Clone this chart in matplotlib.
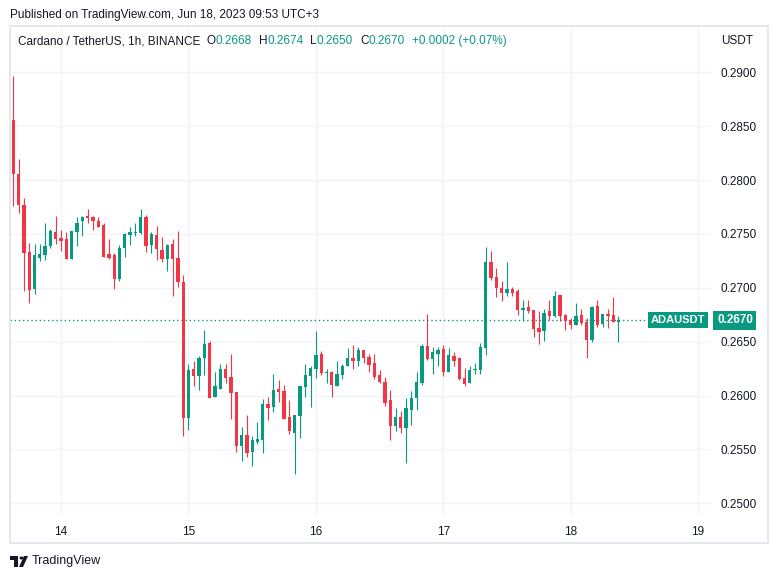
import numpy as np
import pandas as pd
import matplotlib
matplotlib.use("Agg")
import matplotlib.pyplot as plt
import matplotlib.dates as mdates
from matplotlib.ticker import FormatStrFormatter
from matplotlib.patches import Rectangle, Circle, Polygon
from matplotlib import transforms

W, H = 777, 579
UP, DOWN = "#089981", "#f23645"
TXT = "#131722"
GRID = "#f0f3fa"
FRAME = "#e0e3eb"

# ADA/USDT 1h candles, Jun 13 15:00 .. Jun 18 09:00 (UTC+3)
opens = [0.2856, 0.2806, 0.2777, 0.2733, 0.2699, 0.2728, 0.2730, 0.2739, 0.2752, 0.2746,
         0.2745, 0.2727, 0.2752, 0.2762, 0.2767, 0.2766, 0.2762, 0.2758, 0.2731, 0.2730,
         0.2708, 0.2737, 0.2749, 0.2751, 0.2751, 0.2766, 0.2740, 0.2749, 0.2735, 0.2727,
         0.2741, 0.2728, 0.2705, 0.2579, 0.2625, 0.2618, 0.2635, 0.2649, 0.2599, 0.2606,
         0.2625, 0.2617, 0.2603, 0.2553, 0.2563, 0.2548, 0.2557, 0.2559, 0.2592, 0.2589,
         0.2606, 0.2604, 0.2580, 0.2565, 0.2581, 0.2608, 0.2618, 0.2625, 0.2639, 0.2621,
         0.2622, 0.2609, 0.2619, 0.2627, 0.2635, 0.2632, 0.2642, 0.2636, 0.2630, 0.2619,
         0.2613, 0.2596, 0.2572, 0.2580, 0.2570, 0.2587, 0.2598, 0.2612, 0.2646, 0.2634,
         0.2639, 0.2643, 0.2622, 0.2637, 0.2635, 0.2616, 0.2612, 0.2624, 0.2624, 0.2644,
         0.2724, 0.2710, 0.2700, 0.2695, 0.2699, 0.2697, 0.2679, 0.2682, 0.2679, 0.2663,
         0.2660, 0.2678, 0.2674, 0.2693, 0.2675, 0.2670, 0.2665, 0.2675, 0.2668, 0.2652,
         0.2683, 0.2666, 0.2676, 0.2675, 0.2668]
highs = [0.2897, 0.2820, 0.2783, 0.2742, 0.2741, 0.2741, 0.2760, 0.2755, 0.2767, 0.2754,
         0.2752, 0.2753, 0.2766, 0.2767, 0.2773, 0.2767, 0.2766, 0.2760, 0.2745, 0.2732,
         0.2740, 0.2751, 0.2756, 0.2760, 0.2773, 0.2768, 0.2752, 0.2757, 0.2747, 0.2741,
         0.2745, 0.2753, 0.2712, 0.2629, 0.2632, 0.2637, 0.2661, 0.2651, 0.2622, 0.2629,
         0.2629, 0.2639, 0.2603, 0.2571, 0.2582, 0.2562, 0.2575, 0.2597, 0.2599, 0.2620,
         0.2614, 0.2610, 0.2596, 0.2582, 0.2609, 0.2629, 0.2627, 0.2660, 0.2641, 0.2625,
         0.2623, 0.2632, 0.2629, 0.2644, 0.2647, 0.2645, 0.2642, 0.2639, 0.2639, 0.2624,
         0.2617, 0.2605, 0.2588, 0.2586, 0.2598, 0.2604, 0.2622, 0.2648, 0.2676, 0.2645,
         0.2645, 0.2647, 0.2644, 0.2640, 0.2636, 0.2626, 0.2627, 0.2630, 0.2649, 0.2738,
         0.2734, 0.2718, 0.2706, 0.2724, 0.2701, 0.2699, 0.2689, 0.2689, 0.2679, 0.2678,
         0.2680, 0.2689, 0.2697, 0.2693, 0.2676, 0.2672, 0.2686, 0.2680, 0.2672, 0.2683,
         0.2689, 0.2676, 0.2680, 0.2691, 0.2674]
lows = [0.2776, 0.2769, 0.2697, 0.2686, 0.2694, 0.2725, 0.2726, 0.2737, 0.2741, 0.2734,
        0.2727, 0.2727, 0.2739, 0.2748, 0.2760, 0.2754, 0.2756, 0.2729, 0.2727, 0.2699,
        0.2706, 0.2729, 0.2740, 0.2748, 0.2750, 0.2733, 0.2732, 0.2726, 0.2724, 0.2716,
        0.2692, 0.2701, 0.2562, 0.2568, 0.2609, 0.2605, 0.2619, 0.2598, 0.2599, 0.2606,
        0.2612, 0.2578, 0.2548, 0.2539, 0.2543, 0.2535, 0.2555, 0.2547, 0.2577, 0.2585,
        0.2594, 0.2578, 0.2564, 0.2527, 0.2561, 0.2599, 0.2589, 0.2616, 0.2619, 0.2612,
        0.2599, 0.2609, 0.2615, 0.2627, 0.2625, 0.2627, 0.2630, 0.2622, 0.2615, 0.2612,
        0.2590, 0.2559, 0.2567, 0.2565, 0.2537, 0.2573, 0.2587, 0.2610, 0.2633, 0.2620,
        0.2627, 0.2618, 0.2622, 0.2627, 0.2614, 0.2609, 0.2612, 0.2620, 0.2620, 0.2638,
        0.2707, 0.2691, 0.2688, 0.2692, 0.2692, 0.2675, 0.2669, 0.2677, 0.2654, 0.2648,
        0.2651, 0.2670, 0.2673, 0.2669, 0.2661, 0.2662, 0.2665, 0.2665, 0.2635, 0.2650,
        0.2664, 0.2664, 0.2663, 0.2668, 0.2650]
closes = [0.2806, 0.2777, 0.2732, 0.2698, 0.2730, 0.2731, 0.2739, 0.2753, 0.2745, 0.2743,
          0.2727, 0.2753, 0.2760, 0.2766, 0.2765, 0.2762, 0.2756, 0.2729, 0.2728, 0.2708,
          0.2737, 0.2750, 0.2752, 0.2752, 0.2766, 0.2739, 0.2750, 0.2736, 0.2727, 0.2740,
          0.2727, 0.2705, 0.2579, 0.2624, 0.2618, 0.2635, 0.2648, 0.2598, 0.2609, 0.2625,
          0.2616, 0.2602, 0.2553, 0.2563, 0.2547, 0.2559, 0.2560, 0.2592, 0.2588, 0.2605,
          0.2603, 0.2578, 0.2567, 0.2582, 0.2609, 0.2619, 0.2626, 0.2638, 0.2621, 0.2622,
          0.2610, 0.2620, 0.2627, 0.2635, 0.2632, 0.2642, 0.2635, 0.2628, 0.2617, 0.2613,
          0.2593, 0.2572, 0.2580, 0.2570, 0.2588, 0.2598, 0.2613, 0.2646, 0.2634, 0.2640,
          0.2642, 0.2622, 0.2638, 0.2632, 0.2615, 0.2611, 0.2624, 0.2625, 0.2645, 0.2724,
          0.2709, 0.2700, 0.2695, 0.2699, 0.2695, 0.2679, 0.2681, 0.2678, 0.2662, 0.2659,
          0.2677, 0.2674, 0.2692, 0.2674, 0.2669, 0.2665, 0.2674, 0.2667, 0.2652, 0.2682,
          0.2665, 0.2676, 0.2674, 0.2668, 0.2670]
first_candle = "2023-06-13 15:00"
day_ticks = pd.date_range("2023-06-14", "2023-06-19", freq="D")
price_ticks = [0.2500, 0.2550, 0.2600, 0.2650, 0.2700, 0.2750, 0.2800, 0.2850, 0.2900]
symbol = "ADAUSDT"
title_text = "Cardano / TetherUS, 1h, BINANCE"
published = "Published on TradingView.com, Jun 18, 2023 09:53 UTC+3"


def fx(px):
    return px / W


def fy(py):
    return 1 - py / H


plt.rcParams["font.family"] = ["Liberation Sans", "DejaVu Sans"]
fig = plt.figure(figsize=(W / 100, H / 100), dpi=100)
fig.patch.set_facecolor("white")

# chart pane in pixels: x 10..711, y 26..515
ax = fig.add_axes([fx(10), fy(515), (711 - 10) / W, (515 - 26) / H])

o, h, l, c = map(np.array, (opens, highs, lows, closes))
x = mdates.date2num(pd.date_range(first_candle, periods=len(o), freq="h"))
cols = np.where(c >= o, UP, DOWN)
body_lo = np.minimum(o, c)
body_h = np.maximum(np.abs(c - o), 0.00008)

ax.vlines(x, l, h, colors=cols, linewidth=0.8, zorder=2)
ax.bar(x, body_h, bottom=body_lo, width=0.026, color=cols, linewidth=0, zorder=3)

day0 = mdates.date2num(day_ticks[0])
px_per_day = 127.4
ax.set_xlim(x[0] - 3.3 / px_per_day, day0 + (711 - 61.1) / px_per_day)
ax.set_ylim(0.24891, 0.2943)

ax.set_xticks(mdates.date2num(day_ticks))
ax.set_xticklabels([str(d.day) for d in day_ticks])
ax.yaxis.tick_right()
ax.set_yticks(price_ticks)
ax.yaxis.set_major_formatter(FormatStrFormatter("%.4f"))
ax.tick_params(axis="y", length=0, pad=7, labelsize=8.5, labelcolor=TXT)
ax.tick_params(axis="x", length=0, pad=8, labelsize=8.5, labelcolor=TXT)
ax.grid(color=GRID, linewidth=1, zorder=0)
ax.set_axisbelow(True)
for s in ax.spines.values():
    s.set_visible(False)

# last price line + labels
last = c[-1]
ax.axhline(last, xmax=(651 - 10) / (711 - 10), color=UP, linestyle=(0, (1, 2)), linewidth=1, zorder=1)
ytr = ax.get_yaxis_transform()
ax.text(1.0, last, f"{last:.4f}",
        transform=transforms.offset_copy(ytr, fig=fig, x=6, y=0, units="dots"),
        ha="left", va="center", color="white", fontsize=8.5, fontweight="bold", clip_on=False,
        bbox=dict(boxstyle="square,pad=0.3", fc=UP, ec="none"))
ax.text(1.0, last, symbol,
        transform=transforms.offset_copy(ytr, fig=fig, x=-6, y=0, units="dots"),
        ha="right", va="center", color="white", fontsize=8, fontweight="bold", clip_on=False,
        bbox=dict(boxstyle="square,pad=0.25", fc=UP, ec="none"))

# frame
fig.add_artist(Rectangle((fx(10), fy(543)), (768 - 10) / W, (543 - 26) / H, transform=fig.transFigure,
                         fill=False, ec=FRAME, lw=1.2))

# texts
fig.text(fx(10), fy(15), published, fontsize=8.5, color=TXT, va="center")
chg = c[-1] - c[-2]
pieces = [(title_text, TXT, 0), ("O", TXT, 6), (f"{o[-1]:.4f}", UP, 0),
          ("H", TXT, 7), (f"{h[-1]:.4f}", UP, 0),
          ("L", TXT, 7), (f"{l[-1]:.4f}", UP, 0),
          ("C", TXT, 7), (f"{c[-1]:.4f}", UP, 0),
          (f"{chg:+.4f} ({chg / c[-2] * 100:+.2f}%)", UP, 7)]
renderer = fig.canvas.get_renderer()
cur = 18
for s, col, gap in pieces:
    t = fig.text(fx(cur + gap), fy(41), s, fontsize=8.5, color=col, va="center")
    cur = t.get_window_extent(renderer).x1
fig.text(fx(721), fy(41), "USDT", fontsize=8.5, color=TXT, va="center")

# TradingView logo + wordmark
fig.add_artist(Polygon([(fx(10), fy(556)), (fx(18), fy(556)), (fx(18), fy(567)), (fx(14), fy(567)),
                        (fx(14), fy(560)), (fx(10), fy(560))], closed=True, transform=fig.transFigure,
                       fc=TXT, ec="none"))
fig.add_artist(Circle((fx(21.5), fy(558)), 2 / W, transform=fig.transFigure, fc=TXT, ec="none"))
fig.add_artist(Polygon([(fx(24), fy(556)), (fx(28), fy(556)), (fx(23), fy(567)), (fx(19), fy(567))],
                       closed=True, transform=fig.transFigure, fc=TXT, ec="none"))
fig.text(fx(32), fy(561), "TradingView", fontsize=9, color=TXT, va="center")

fig.savefig("out.png", dpi=100, facecolor="white")
